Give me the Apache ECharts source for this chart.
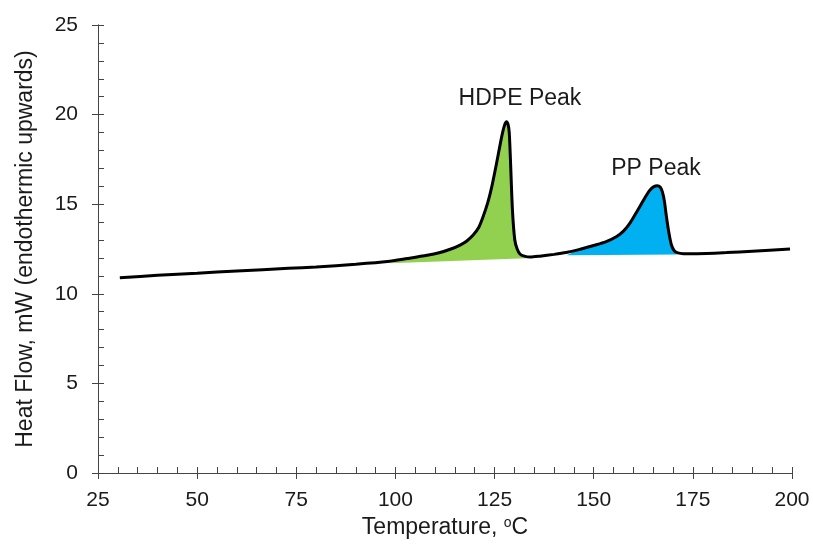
<!DOCTYPE html>
<html>
<head>
<meta charset="utf-8">
<script src="https://cdn.jsdelivr.net/npm/echarts@6/dist/echarts.min.js"></script>
<style>
  html, body { margin: 0; background: #fff; }
  #chart { width: 813px; height: 547px; }
</style>
</head>
<body>
<div id="chart"></div>
<script>
// DSC trace
var tempC = [30.5, 40, 50, 60, 73, 80, 90, 98, 103, 108, 111, 114, 116.3, 118, 119.6, 121, 122.1, 123.3, 124.3, 125.5, 126.8, 127.5, 128.0, 128.4, 128.7, 129.0, 129.5, 130.1, 130.7, 131.4, 132.5, 134, 136.4, 140, 143, 146, 150, 153, 155.8, 157.5, 159.1, 160.8, 162.1, 163.3, 164.2, 165.2, 166.0, 166.8, 167.3, 167.8, 168.4, 169.0, 169.6, 170.3, 171.2, 172.6, 176, 183.5, 190, 199.5];
var heatFlow = [10.9, 11.03, 11.15, 11.27, 11.42, 11.5, 11.65, 11.8, 11.97, 12.15, 12.29, 12.5, 12.72, 12.95, 13.28, 13.7, 14.3, 15.1, 15.98, 17.28, 18.77, 19.4, 19.6, 19.45, 19.0, 17.5, 14.7, 13.0, 12.5, 12.22, 12.1, 12.05, 12.1, 12.2, 12.3, 12.45, 12.7, 12.9, 13.2, 13.5, 13.93, 14.55, 15.05, 15.5, 15.79, 15.98, 16.03, 15.95, 15.7, 15.2, 14.2, 13.35, 12.72, 12.4, 12.28, 12.24, 12.24, 12.3, 12.38, 12.5];

// straight baselines under the two melting peaks [temp, heat flow]
var hdpeBaseline = [[98.6, 11.7], [133.0, 11.98]];
var ppBaseline = [[143.2, 12.15], [171.0, 12.2]];

var peakNames = ['HDPE Peak', 'PP Peak'];
var peakLabelX = [131.4, 165.7];
var peakLabelY = [20.9, 17.0];

var FONT = '"Liberation Sans", Arial, sans-serif';
var TEXT = '#1a1a1a';
var AXIS = '#444';

function peakArea(base) {
  var pts = [base[0]];
  for (var i = 0; i < tempC.length; i++) {
    if (tempC[i] > base[0][0] && tempC[i] < base[1][0]) pts.push([tempC[i], heatFlow[i]]);
  }
  pts.push(base[1]);
  return pts;
}

function areaSeries(base, color) {
  var pts = peakArea(base);
  return {
    type: 'custom',
    silent: true,
    z: 2,
    data: [base[0]],
    renderItem: function (params, api) {
      return {
        type: 'polygon',
        shape: { points: pts.map(function (p) { return api.coord(p); }) },
        style: { fill: color }
      };
    }
  };
}

// main axis: labels + major ticks pointing out; ghost axis on top of it: ticks pointing in
function xAxes() {
  var base = { type: 'value', min: 25, max: 200, interval: 25, position: 'bottom', splitLine: { show: false } };
  return [
    Object.assign({}, base, {
      name: 'Temperature, {sup|o}C',
      nameLocation: 'middle',
      nameGap: 40,
      nameTextStyle: {
        fontFamily: FONT, fontSize: 23, color: TEXT,
        rich: { sup: { fontFamily: FONT, fontSize: 14, color: TEXT, verticalAlign: 'top', padding: [0, 0, 10, 0] } }
      },
      axisLine: { onZero: false, lineStyle: { color: AXIS, width: 1 } },
      axisTick: { show: true, length: 6, lineStyle: { color: AXIS } },
      axisLabel: { fontFamily: FONT, fontSize: 21, color: TEXT, margin: 17 }
    }),
    Object.assign({}, base, {
      axisLine: { show: true, onZero: false, lineStyle: { color: AXIS, width: 1 } },
      axisTick: { show: true, inside: true, length: 6, lineStyle: { color: AXIS, width: 1 } },
      minorTick: { show: true, splitNumber: 5, length: 6, lineStyle: { color: AXIS } },
      axisLabel: { show: true, color: 'rgba(0,0,0,0)', fontSize: 21, margin: 17 }
    })
  ];
}

function yAxes() {
  var base = { type: 'value', min: 0, max: 25, interval: 5, position: 'left', splitLine: { show: false } };
  return [
    Object.assign({}, base, {
      name: 'Heat Flow, mW (endothermic upwards)',
      nameLocation: 'middle',
      nameGap: 61,
      nameTextStyle: { fontFamily: FONT, fontSize: 23, color: TEXT },
      axisLine: { show: true, onZero: false, lineStyle: { color: AXIS, width: 1 } },
      axisTick: { show: true, length: 6, lineStyle: { color: AXIS } },
      axisLabel: { fontFamily: FONT, fontSize: 21, color: TEXT, margin: 20 }
    }),
    Object.assign({}, base, {
      axisLine: { show: true, onZero: false, lineStyle: { color: AXIS, width: 1 } },
      axisTick: { show: true, inside: true, length: 6, lineStyle: { color: AXIS, width: 1 } },
      minorTick: { show: true, splitNumber: 5, length: 6, lineStyle: { color: AXIS } },
      axisLabel: { show: true, color: 'rgba(0,0,0,0)', fontSize: 21, margin: 20 }
    })
  ];
}

var chart = echarts.init(document.getElementById('chart'), null, { renderer: 'canvas' });
chart.setOption({
  animation: false,
  backgroundColor: '#fff',
  grid: { left: 98, right: 21, top: 25, bottom: 74, containLabel: false, outerBoundsMode: 'none' },
  xAxis: xAxes(),
  yAxis: yAxes(),
  series: [
    areaSeries(hdpeBaseline, '#92D050'),
    areaSeries(ppBaseline, '#00B0F0'),
    {
      type: 'line',
      z: 3,
      silent: true,
      data: tempC.map(function (t, i) { return [t, heatFlow[i]]; }),
      showSymbol: false,
      smooth: 0.25,
      lineStyle: { color: '#000', width: 3 }
    },
    {
      type: 'scatter',
      z: 4,
      silent: true,
      symbolSize: 1,
      itemStyle: { color: 'rgba(0,0,0,0)' },
      data: peakNames.map(function (n, i) { return { name: n, value: [peakLabelX[i], peakLabelY[i]] }; }),
      label: {
        show: true, position: 'inside', formatter: '{b}', opacity: 1,
        fontFamily: FONT, fontSize: 23, color: TEXT, textBorderWidth: 0
      }
    }
  ]
});
</script>
</body>
</html>
